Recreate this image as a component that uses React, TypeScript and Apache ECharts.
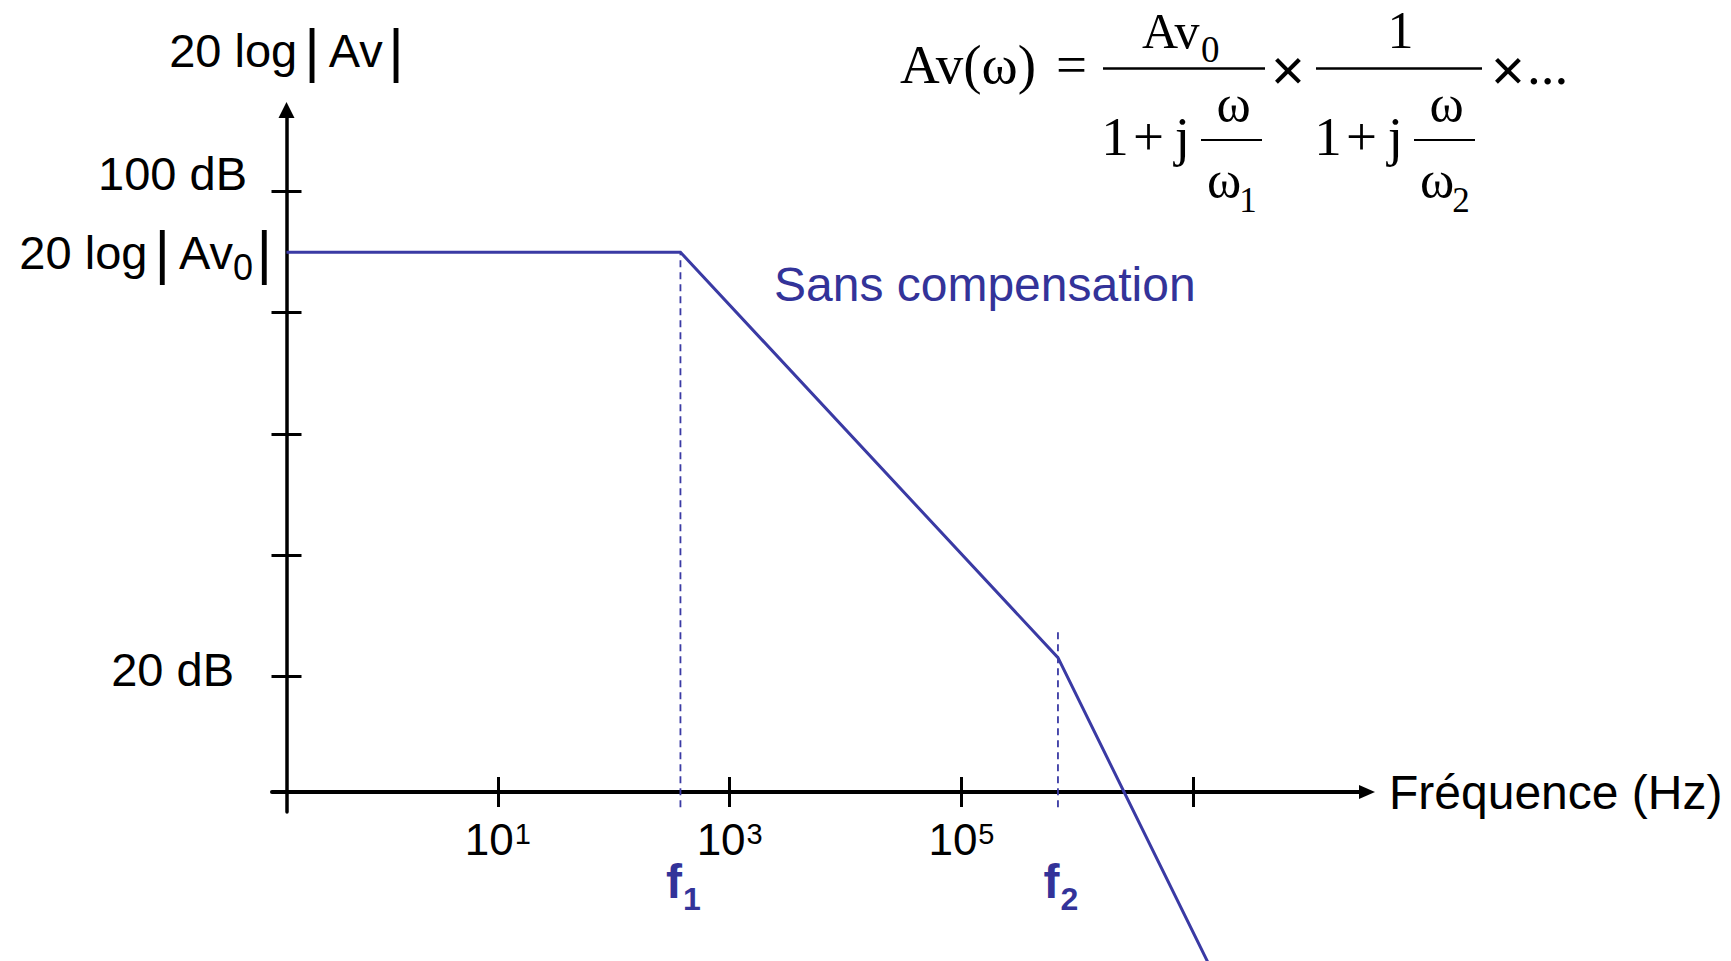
import React, { useEffect, useRef } from 'react';
import * as echarts from 'echarts';

// Asymptotic Bode magnitude plot of an uncompensated two-pole amplifier.
const responseFreqHz = [0.15, 376, 6.8e5, 1.35e7];
const responseGainDb = [90, 90, 23, -27.5];

const cornerNames = ['1', '2'];
const cornerFreqHz = [376, 6.8e5];
const cornerGuideTopDb = [90, 27.3];
const guideBottomDb = -1.7;

const xTickExponents = [1, 3, 5, 7];
const xLabelExponents = [1, 3, 5];
const yTickDb = [20, 40, 60, 80, 100];
const yLabelDb = [20, 100];

const SANS = "'Liberation Sans', Arial, Helvetica, sans-serif";
const SERIF = "'Liberation Serif', 'Times New Roman', serif";
const BLUE = '#333399';
const LINE_BLUE = '#3a3aa4';
const INK = '#000000';

const log10 = (f: number) => Math.log10(f);

// SVG text is drawn on its central baseline; convert an alphabetic baseline to it.
const mid = (baseline: number, size: number, ratio = 0.3375) => baseline - ratio * size;

const serifText = (text: string, x: number, baseline: number, size: number, align = 'center') => ({
  type: 'text',
  x,
  y: mid(baseline, size),
  style: {
    text,
    fontSize: size,
    fontFamily: SERIF,
    fill: INK,
    align,
    textAlign: align,
    verticalAlign: 'middle',
    textVerticalAlign: 'middle',
  },
});

const sansText = (text: string, x: number, y: number, size: number, fill: string, align = 'center') => ({
  type: 'text',
  x,
  y,
  style: {
    text,
    fontSize: size,
    fontFamily: SANS,
    fill,
    align,
    textAlign: align,
    verticalAlign: 'middle',
    textVerticalAlign: 'middle',
  },
});

const hLine = (x1: number, x2: number, y: number, w: number) => ({
  type: 'line',
  shape: { x1, y1: y, x2, y2: y },
  style: { stroke: INK, lineWidth: w },
});

// Denominator "1 + j ω/ωk" of a first-order factor, shifted horizontally by dx.
const denominator = (dx: number, index: string) => [
  serifText('1', 1115 + dx, 155, 55),
  serifText('+', 1148.5 + dx, 155, 55),
  serifText('j', 1182.5 + dx, 155, 55),
  hLine(1201 + dx, 1262 + dx, 140, 1.8),
  serifText('ω', 1233.5 + dx, 121, 52),
  serifText('ω', 1224 + dx, 197, 52),
  serifText(index, 1248 + dx, 212.7, 35),
];

const formula = [
  serifText('Av(ω)', 900, 83, 55, 'left'),
  serifText('=', 1071.5, 83, 55),
  serifText('Av', 1142, 48, 50, 'left'),
  serifText('0', 1201, 61.7, 37, 'left'),
  hLine(1103, 1265, 68.5, 2.5),
  sansText('×', 1288, 69, 58, INK),
  serifText('1', 1400.5, 48, 52),
  hLine(1316, 1482, 68.5, 2.5),
  sansText('×', 1508, 69, 58, INK),
  serifText('...', 1527, 84, 55, 'left'),
  ...denominator(0, '1'),
  ...denominator(213, '2'),
];

const barRich = (padL: number, padR: number) => ({
  fontSize: 60,
  lineHeight: 60,
  fontFamily: SANS,
  color: INK,
  padding: [0, padR, 0, padL],
});

// Invisible anchor points that only carry a text label.
const anchorItemStyle = { color: 'rgba(0,0,0,0)', opacity: 1 };

const option: any = {
  animation: false,
  backgroundColor: '#ffffff',
  grid: { left: 272, right: 364, top: 110, bottom: 149, containLabel: false },
  xAxis: [
    {
      type: 'value',
      min: -0.949,
      max: 8.499,
      position: 'bottom',
      offset: -20,
      splitLine: { show: false },
      axisLine: {
        show: true,
        onZero: false,
        symbol: ['none', 'triangle'],
        symbolSize: [14, 16],
        lineStyle: { color: INK, width: 4 },
      },
      axisTick: { show: true, inside: false, length: 15, customValues: xTickExponents, lineStyle: { color: INK, width: 3 } },
      axisLabel: {
        show: true,
        customValues: xLabelExponents,
        showMinLabel: true,
        showMaxLabel: true,
        margin: 25,
        formatter: (v: number) => `{b|10}{s|${v}}`,
        rich: {
          b: { fontSize: 44, lineHeight: 44, fontFamily: SANS, color: INK },
          s: { fontSize: 29, lineHeight: 44, fontFamily: SANS, color: INK, padding: [0, 0, 10, 1] },
        },
      },
      name: 'Fréquence (Hz)',
      nameLocation: 'end',
      nameGap: 22,
      nameTextStyle: { fontSize: 48, fontFamily: SANS, color: INK },
    },
    {
      type: 'value',
      min: -0.949,
      max: 8.499,
      position: 'bottom',
      offset: -20,
      splitLine: { show: false },
      axisLine: { show: false, onZero: false },
      axisTick: { show: true, inside: true, length: 15, customValues: xTickExponents, lineStyle: { color: INK, width: 3 } },
      axisLabel: { show: false },
    },
  ],
  yAxis: [
    {
      type: 'value',
      min: -2.5,
      max: 113.5,
      position: 'left',
      offset: -14.5,
      splitLine: { show: false },
      axisLine: {
        show: true,
        onZero: false,
        symbol: ['none', 'triangle'],
        symbolSize: [16, 16],
        lineStyle: { color: INK, width: 3.5 },
      },
      axisTick: { show: true, inside: false, length: 15, customValues: yTickDb, lineStyle: { color: INK, width: 3 } },
      axisLabel: {
        show: true,
        customValues: yLabelDb,
        showMinLabel: true,
        showMaxLabel: true,
        margin: 14.5,
        formatter: (v: number) => (v === 100 ? '{hi|100 dB}' : '{lo|20 dB}'),
        rich: {
          hi: { fontSize: 47, lineHeight: 47, fontFamily: SANS, color: INK, padding: [0, 25, 37, 0] },
          lo: { fontSize: 47, lineHeight: 47, fontFamily: SANS, color: INK, padding: [0, 38, 12, 0] },
        },
      },
      name: '{t|20 log}{b1||}{t|Av}{b2||}',
      nameLocation: 'end',
      nameGap: 30,
      nameTextStyle: {
        rich: {
          t: { fontSize: 47, lineHeight: 60, fontFamily: SANS, color: INK },
          b1: barRich(7, 9),
          b2: barRich(5.4, 0),
        },
      },
    },
    {
      type: 'value',
      min: -2.5,
      max: 113.5,
      position: 'left',
      offset: -14.5,
      splitLine: { show: false },
      axisLine: { show: false, onZero: false },
      axisTick: { show: true, inside: true, length: 15, customValues: yTickDb, lineStyle: { color: INK, width: 3 } },
      axisLabel: { show: false },
    },
  ],
  series: [
    ...cornerFreqHz.map((f, i) => ({
      type: 'line',
      xAxisIndex: 0,
      yAxisIndex: 0,
      silent: true,
      showSymbol: false,
      symbol: 'none',
      z: 1,
      lineStyle: { color: LINE_BLUE, width: 1.8, type: [7, 5] },
      data: [
        [log10(f), guideBottomDb],
        [log10(f), cornerGuideTopDb[i]],
      ],
    })),
    {
      type: 'line',
      xAxisIndex: 0,
      yAxisIndex: 0,
      silent: true,
      clip: false,
      showSymbol: false,
      symbol: 'none',
      z: 3,
      lineStyle: { color: LINE_BLUE, width: 3, join: 'miter' },
      data: responseFreqHz.map((f, i) => [log10(f), responseGainDb[i]]),
    },
    // Plateau level 20 log|Av0|, written beside the axis at the low-frequency gain.
    {
      type: 'scatter',
      xAxisIndex: 0,
      yAxisIndex: 0,
      silent: true,
      symbol: 'circle',
      symbolSize: 1,
      itemStyle: anchorItemStyle,
      label: {
        show: true,
        position: 'left',
        distance: 14,
        color: INK,
        opacity: 1,
        formatter: () => '{t|20 log}{b1||}{t|Av}{sub|0}{b2||}',
        rich: {
          t: { fontSize: 47, lineHeight: 60, fontFamily: SANS, color: INK },
          sub: { fontSize: 36, lineHeight: 60, fontFamily: SANS, color: INK, padding: [30, 0, 0, 0] },
          b1: barRich(7, 9),
          b2: barRich(3.4, 0),
        },
      },
      data: [[log10(responseFreqHz[0]), responseGainDb[0]]],
    },
    {
      type: 'scatter',
      xAxisIndex: 0,
      yAxisIndex: 0,
      silent: true,
      symbol: 'circle',
      symbolSize: 1,
      itemStyle: anchorItemStyle,
      label: {
        show: true,
        position: 'bottom',
        distance: 50,
        offset: [3, 0],
        color: BLUE,
        opacity: 1,
        textBorderWidth: 0,
        formatter: (p: any) => `{f|f}{s|${cornerNames[p.dataIndex]}}`,
        rich: {
          f: { fontSize: 48, lineHeight: 48, fontWeight: 'bold', fontFamily: SANS, color: BLUE },
          s: { fontSize: 32, lineHeight: 48, fontWeight: 'bold', fontFamily: SANS, color: BLUE, padding: [34, 0, 0, 1] },
        },
      },
      data: cornerFreqHz.map((f) => [log10(f), guideBottomDb]),
    },
  ],
  graphic: [
    sansText('Sans compensation', 774, 284, 48, BLUE, 'left'),
    ...formula,
  ],
};

export default function App() {
  const ref = useRef<HTMLDivElement>(null);
  useEffect(() => {
    if (!ref.current) return;
    const chart = echarts.init(ref.current, null, { renderer: 'svg' });
    chart.setOption(option);
    return () => chart.dispose();
  }, []);
  return (
    <div
      ref={ref}
      style={{ position: 'fixed', left: 0, top: 0, width: 1731, height: 961, background: '#ffffff' }}
    />
  );
}
